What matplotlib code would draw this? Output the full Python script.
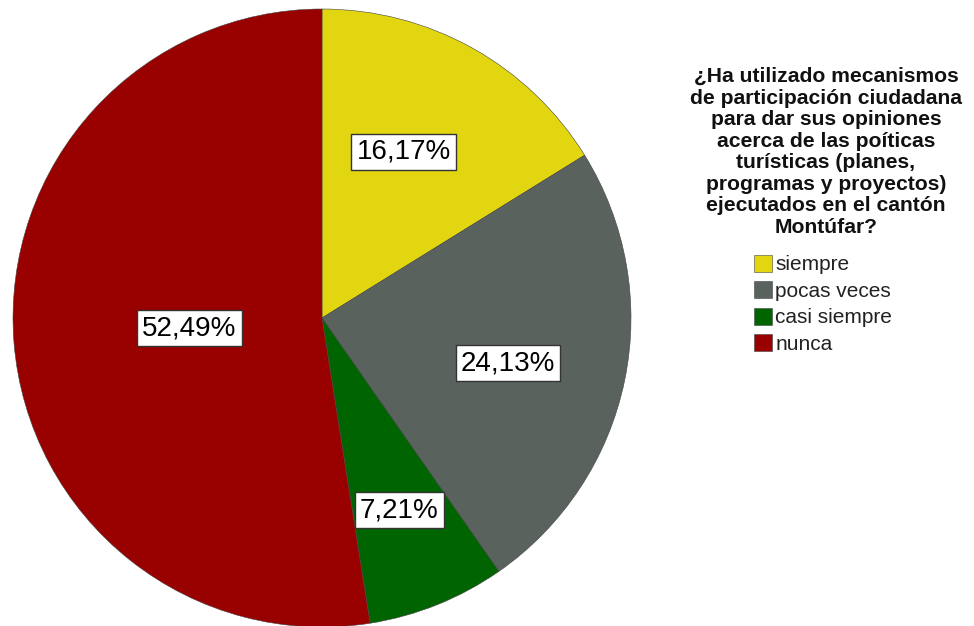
import numpy as np
import matplotlib
matplotlib.use("Agg")
import matplotlib.pyplot as plt

categories = ["siempre", "pocas veces", "casi siempre", "nunca"]
values = [16.17, 24.13, 7.21, 52.49]
labels = ["16,17%", "24,13%", "7,21%", "52,49%"]
colors = ["#E2D611", "#5A625E", "#006400", "#990000"]
title = ("¿Ha utilizado mecanismos\nde participación ciudadana\npara dar sus opiniones\n"
         "acerca de las poíticas\nturísticas (planes,\nprogramas y proyectos)\n"
         "ejecutados en el cantón\nMontúfar?")
label_dist = [0.60, 0.62, 0.67, 0.43]
label_ang_shift = [3.0, -2.0, 0.0, 0.0]

plt.rcParams['font.family'] = ['Liberation Sans', 'DejaVu Sans']

W, H = 974, 626
fig = plt.figure(figsize=(W / 100, H / 100), dpi=100)
cx, cy, r = 322, 318, 309
ax = fig.add_axes([(cx - r) / W, (H - cy - r) / H, 2 * r / W, 2 * r / H])
ax.set_xlim(-1, 1)
ax.set_ylim(-1, 1)
ax.axis('off')

wedges, _ = ax.pie(values, colors=colors, startangle=90, counterclock=False,
                   radius=1, wedgeprops=dict(linewidth=0.4, edgecolor='#444444'))
ax.set_xlim(-1, 1)
ax.set_ylim(-1, 1)

for w, lab, d, s in zip(wedges, labels, label_dist, label_ang_shift):
    ang = np.deg2rad((w.theta1 + w.theta2) / 2 + s)
    ax.text(d * np.cos(ang), d * np.sin(ang), lab, ha='center', va='center',
            fontsize=20, color='black',
            bbox=dict(boxstyle='square,pad=0.18', facecolor='white',
                      edgecolor='#333333', linewidth=1.0))

fig.text(826 / W, 1 - 67 / H, title, ha='center', va='top', fontsize=15.2,
         fontweight='bold', linespacing=1.17, color='#111111')

leg = fig.legend(wedges, categories, loc='upper left',
                 bbox_to_anchor=(739 / W, 1 - 240 / H), frameon=False,
                 fontsize=15, handlelength=0.9, handleheight=0.9,
                 handletextpad=0.15, labelspacing=0.32, borderpad=0.2)
for t in leg.get_texts():
    t.set_color('#222222')

fig.savefig("out.png", dpi=100)
